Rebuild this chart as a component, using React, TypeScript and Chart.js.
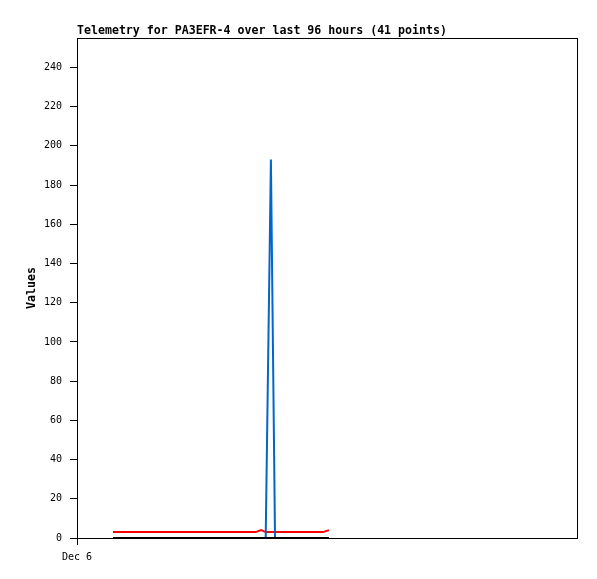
import React, { useEffect, useRef } from "react";
import { Chart, registerables } from "chart.js";

Chart.register(...registerables);

// hours since Dec 6 00:00
const times = [
  6.91, 7.93, 8.94, 9.96, 10.97, 11.99, 13.0, 14.02, 15.03, 16.05, 17.06, 18.08, 19.09, 20.11,
  21.12, 22.14, 23.15, 24.17, 25.18, 26.2, 27.21, 28.23, 29.24, 30.26, 31.27, 32.29, 33.3, 34.32,
  35.33, 36.23, 37.23, 38.02, 39.17, 40.32, 41.47, 42.62, 43.78, 44.93, 46.08, 47.23, 48.38,
];
const blackValues = [
  0, 0, 0, 0, 0, 0, 0, 0, 0, 0, 0, 0, 0, 0, 0, 0, 0, 0, 0, 0, 0, 0, 0, 0, 0, 0, 0, 0, 0, 0, 0, 0,
  0, 0, 0, 0, 0, 0, 0, 0, 0,
];
const blueValues = [
  0, 0, 0, 0, 0, 0, 0, 0, 0, 0, 0, 0, 0, 0, 0, 0, 0, 0, 0, 0, 0, 0, 0, 0, 0, 0, 0, 0, 0, 0, 193, 0,
  0, 0, 0, 0, 0, 0, 0, 0, 0,
];
const redValues = [
  3, 3, 3, 3, 3, 3, 3, 3, 3, 3, 3, 3, 3, 3, 3, 3, 3, 3, 3, 3, 3, 3, 3, 3, 3, 3, 3, 3, 4, 3, 3, 3,
  3, 3, 3, 3, 3, 3, 3, 3, 4,
];
const yTicks = [0, 20, 40, 60, 80, 100, 120, 140, 160, 180, 200, 220, 240];
const xTicks = [0];
const xTickLabels = ["Dec 6"];
const titleText = "Telemetry for PA3EFR-4 over last 96 hours (41 points)";

const frame = {
  id: "frame",
  afterDraw(chart: any) {
    const { ctx, chartArea } = chart;
    ctx.save();
    ctx.strokeStyle = "#000";
    ctx.lineWidth = 1;
    ctx.strokeRect(
      Math.round(chartArea.left) + 0.5,
      Math.round(chartArea.top) + 0.5,
      Math.round(chartArea.right - chartArea.left),
      Math.round(chartArea.bottom - chartArea.top)
    );
    ctx.restore();
  },
};

export default function App() {
  const ref = useRef<HTMLCanvasElement>(null);
  useEffect(() => {
    document.body.style.margin = "0";
    const mk = (vals: number[]) => times.map((t, i) => ({ x: t, y: vals[i] }));
    const mono = "'DejaVu Sans Mono', monospace";
    const chart = new Chart(ref.current!, {
      type: "line",
      data: {
        datasets: [
          { data: mk(blackValues), borderColor: "#000000", borderWidth: 2, pointRadius: 0, tension: 0 },
          { data: mk(blueValues), borderColor: "#0066cc", borderWidth: 2, pointRadius: 0, tension: 0 },
          { data: mk(redValues), borderColor: "#ff0000", borderWidth: 2, pointRadius: 0, tension: 0 },
        ],
      },
      plugins: [frame],
      options: {
        animation: false,
        responsive: false,
        devicePixelRatio: 1,
        layout: { padding: { left: 0, right: 20, top: 0, bottom: 0 } },
        plugins: {
          legend: { display: false },
          tooltip: { enabled: false },
          title: {
            display: true,
            text: titleText,
            align: "start",
            fullSize: false,
            color: "#000",
            font: { family: mono, size: 11.6, weight: "bold", lineHeight: 1.2 },
            padding: { top: 24, bottom: 0.08 },
          },
        },
        scales: {
          x: {
            type: "linear",
            min: 0,
            max: 96,
            afterBuildTicks: (s: any) => {
              s.ticks = xTicks.map((v) => ({ value: v }));
            },
            afterFit: (s: any) => {
              s.height = 41;
            },
            ticks: {
              color: "#000",
              font: { family: mono, size: 10 },
              padding: 6,
              maxRotation: 0,
              autoSkip: false,
              callback: (v: any) => {
                const i = xTicks.indexOf(Number(v));
                return i >= 0 ? xTickLabels[i] : "";
              },
            },
            grid: { drawOnChartArea: false, drawTicks: true, tickLength: 7, color: "#000" },
            border: { display: true, color: "#000", width: 1 },
          },
          y: {
            type: "linear",
            min: 0,
            max: 255,
            afterBuildTicks: (s: any) => {
              s.ticks = yTicks.map((v) => ({ value: v }));
            },
            afterFit: (s: any) => {
              s.width = 77;
            },
            ticks: {
              color: "#000",
              font: { family: mono, size: 10 },
              padding: 8,
              autoSkip: false,
            },
            grid: { drawOnChartArea: false, drawTicks: true, tickLength: 7, color: "#000" },
            border: { display: true, color: "#000", width: 1 },
            title: {
              display: true,
              text: "Values",
              color: "#000",
              font: { family: mono, size: 11.6, weight: "bold", lineHeight: 1.2 },
              padding: { top: 25, bottom: 0 },
            },
          },
        },
      },
    });
    return () => chart.destroy();
  }, []);
  return <canvas ref={ref} width={597} height={579} style={{ display: "block" }} />;
}
